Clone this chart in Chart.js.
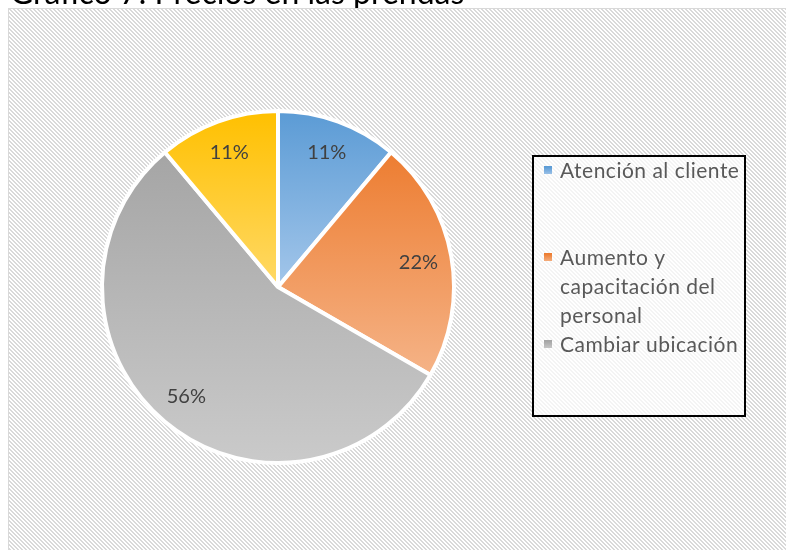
<!DOCTYPE html>
<html>
<head>
<meta charset="utf-8">
<script src="https://cdn.jsdelivr.net/npm/chart.js@4.4.0/dist/chart.umd.min.js"></script>
<style>
  html, body { margin: 0; padding: 0; background: #fff; }
  #wrap { position: relative; width: 786px; height: 550px; }
</style>
</head>
<body>
<div id="wrap"><canvas id="pieChart" width="786" height="550"></canvas></div>
<script>
const chartTitle = 'Gráfico 7: Precios en las prendas';
const categories = ['Atención al cliente', 'Aumento y capacitación del personal', 'Cambiar ubicación', 'Otros'];
const responses = [1, 2, 5, 1];

// top / bottom colours of each slice gradient
const topColors = ['#5b9bd5', '#ed7d31', '#a5a5a5', '#ffc000'];
const bottomColors = ['#a3c6ea', '#f5b387', '#cacaca', '#ffd966'];
const BORDER = 4;

function sliceBounds(chart, i) {
  const area = chart.chartArea;
  const total = responses.reduce((a, b) => a + b, 0);
  let before = 0;
  for (let k = 0; k < i; k++) before += responses[k];
  const start = -Math.PI / 2 + before / total * Math.PI * 2;
  const end = start + responses[i] / total * Math.PI * 2;
  const cy = (area.top + area.bottom) / 2;
  const r = (Math.min(area.width, area.height) - BORDER) / 2;
  const ys = [cy, cy + r * Math.sin(start), cy + r * Math.sin(end)];
  for (let a = -Math.PI / 2; a <= Math.PI * 1.5 + 0.001; a += Math.PI / 2) {
    if (a > start && a < end) ys.push(cy + r * Math.sin(a));
  }
  return [Math.min(...ys), Math.max(...ys)];
}

function sliceFill(c) {
  const chart = c.chart;
  const i = c.dataIndex;
  if (!chart.chartArea || i === undefined) return topColors[i || 0];
  const [y0, y1] = sliceBounds(chart, i);
  const g = chart.ctx.createLinearGradient(0, y0, 0, y1);
  g.addColorStop(0, topColors[i]);
  g.addColorStop(1, bottomColors[i]);
  return g;
}

// hatched background, border and the (cut off) title
const backdrop = {
  id: 'backdrop',
  beforeDraw(chart) {
    const ctx = chart.ctx;
    ctx.save();
    ctx.fillStyle = '#fff';
    ctx.fillRect(0, 0, chart.width, chart.height);
    ctx.fillStyle = '#000';
    ctx.font = '32px Lato';
    ctx.textBaseline = 'alphabetic';
    ctx.fillText(chartTitle, 10, 4);

    const tile = document.createElement('canvas');
    tile.width = 4; tile.height = 4;
    const t = tile.getContext('2d');
    t.fillStyle = '#fff';
    t.fillRect(0, 0, 4, 4);
    t.fillStyle = '#d9d9d9';
    for (let y = 0; y < 4; y++) {
      t.fillRect(y % 4, y, 1, 1);
      t.fillRect((y + 1) % 4, y, 1, 1);
    }
    ctx.fillStyle = ctx.createPattern(tile, 'repeat');
    ctx.fillRect(8, 8, chart.width - 8, chart.height - 8);
    ctx.strokeStyle = '#d9d9d9';
    ctx.lineWidth = 1;
    ctx.beginPath();
    ctx.moveTo(8.5, chart.height);
    ctx.lineTo(8.5, 8.5);
    ctx.lineTo(chart.width, 8.5);
    ctx.stroke();
    ctx.restore();
  }
};

const sliceLabels = {
  id: 'sliceLabels',
  afterDatasetsDraw(chart) {
    const ctx = chart.ctx;
    const arcs = chart.getDatasetMeta(0).data;
    const total = responses.reduce((a, b) => a + b, 0);
    ctx.save();
    ctx.font = '20px Lato';
    ctx.fillStyle = '#404040';
    ctx.textAlign = 'center';
    ctx.textBaseline = 'middle';
    arcs.forEach((arc, i) => {
      const mid = (arc.startAngle + arc.endAngle) / 2;
      const d = arc.outerRadius * 0.81;
      const pct = Math.round(responses[i] / total * 100) + '%';
      ctx.fillText(pct, arc.x + d * Math.cos(mid), arc.y + d * Math.sin(mid));
    });
    ctx.restore();
  }
};

function wrapText(ctx, text, maxWidth) {
  const words = text.split(' ');
  const lines = [];
  let line = '';
  words.forEach(w => {
    const test = line ? line + ' ' + w : w;
    if (line && ctx.measureText(test).width > maxWidth) {
      lines.push(line);
      line = w;
    } else {
      line = test;
    }
  });
  lines.push(line);
  return lines;
}

const boxLegend = {
  id: 'boxLegend',
  afterDraw(chart) {
    const ctx = chart.ctx;
    const box = { left: 533, top: 156, right: 745, bottom: 416 };
    ctx.save();
    ctx.fillStyle = 'rgba(255,255,255,0.7)';
    ctx.fillRect(box.left, box.top, box.right - box.left, box.bottom - box.top);
    ctx.beginPath();
    ctx.rect(box.left, box.top, box.right - box.left, box.bottom - box.top);
    ctx.clip();
    ctx.font = '21px Lato';
    ctx.letterSpacing = '0.5px';
    ctx.textBaseline = 'middle';
    let y = 171;
    categories.forEach((name, i) => {
      const g = ctx.createLinearGradient(0, y - 4, 0, y + 4);
      g.addColorStop(0, topColors[i]);
      g.addColorStop(1, bottomColors[i]);
      ctx.fillStyle = g;
      ctx.fillRect(544, y - 5, 8, 8);
      ctx.fillStyle = '#595959';
      const lines = wrapText(ctx, name, 182);
      lines.forEach((ln, k) => ctx.fillText(ln, 560, y + k * 29));
      y += 87;
    });
    ctx.restore();
    ctx.save();
    ctx.strokeStyle = '#000';
    ctx.lineWidth = 2;
    ctx.strokeRect(box.left, box.top, box.right - box.left, box.bottom - box.top);
    ctx.restore();
  }
};

const ctx = document.getElementById('pieChart').getContext('2d');
new Chart(ctx, {
  type: 'pie',
  data: {
    labels: categories,
    datasets: [{
      data: responses,
      backgroundColor: sliceFill,
      borderColor: '#ffffff',
      borderWidth: BORDER
    }]
  },
  options: {
    responsive: false,
    animation: false,
    layout: { padding: { left: 100, top: 109, right: 330, bottom: 85 } },
    plugins: {
      legend: { display: false },
      tooltip: { enabled: false }
    }
  },
  plugins: [backdrop, sliceLabels, boxLegend]
});
</script>
</body>
</html>
